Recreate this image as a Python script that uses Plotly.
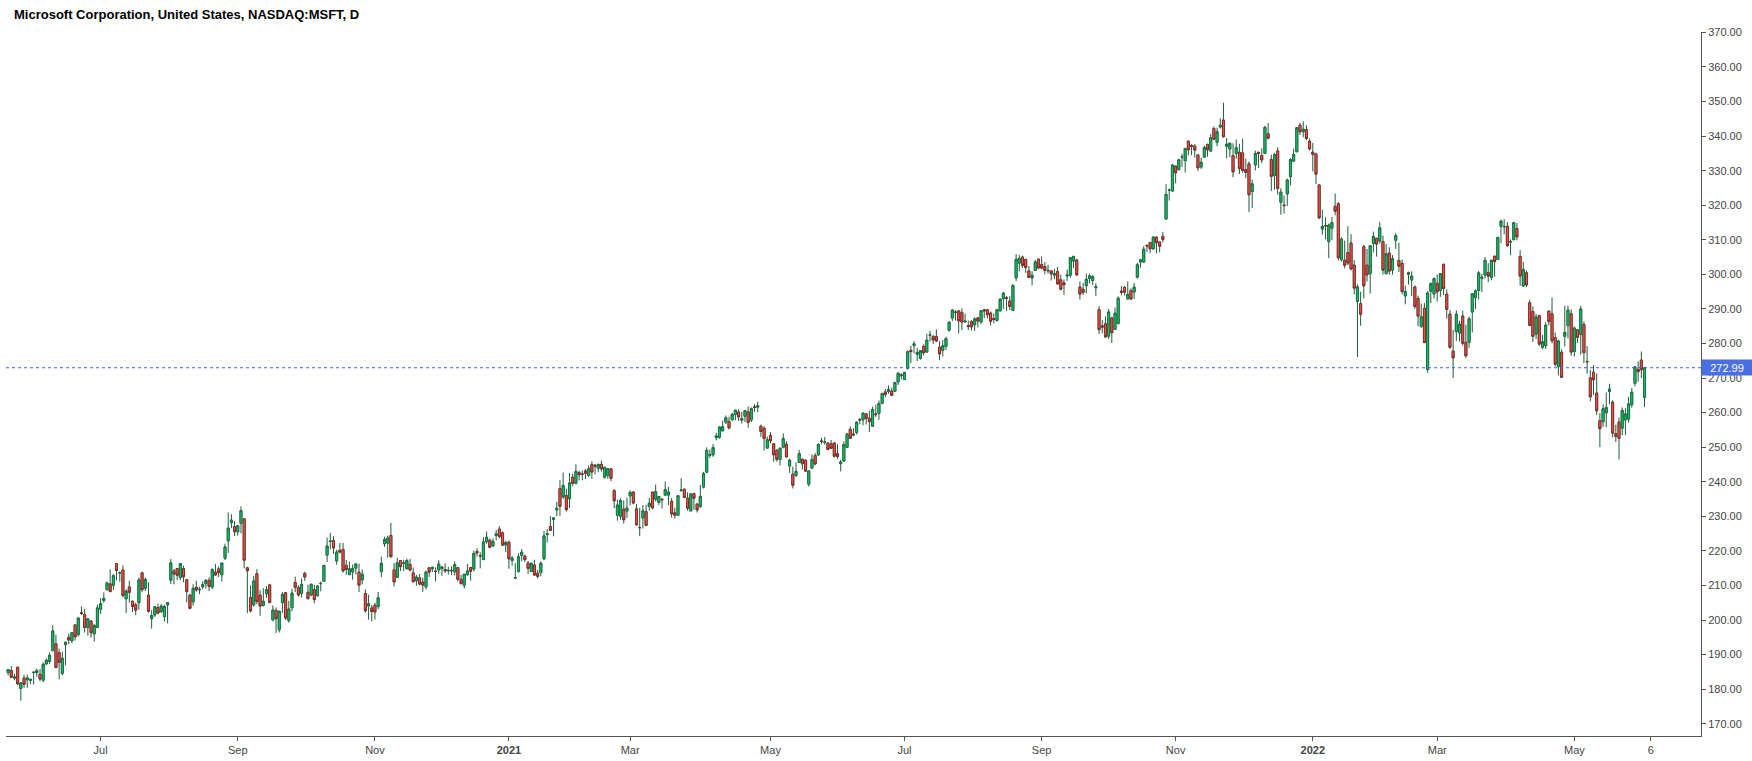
import numpy as np
import pandas as pd
import plotly.graph_objects as go

# ---------------- DATA (MSFT daily, 2020-05-20 .. 2022-06-02) ----------------
holidays = ["2020-05-25", "2020-07-03", "2020-09-07", "2020-11-26", "2020-12-25",
            "2021-01-01", "2021-01-18", "2021-02-15", "2021-04-02", "2021-05-31",
            "2021-07-05", "2021-09-06", "2021-11-25", "2021-12-24", "2022-01-17",
            "2022-02-21", "2022-04-15", "2022-05-30"]

open_ = [
    184.81, 185.40, 183.19, 186.34, 180.20, 183.24, 182.73,  # May20
    182.54, 184.82, 184.81, 184.30, 182.62, 187.32, 188.00, 191.13, 193.13, 190.54, 184.58, 192.89, 195.03, 194.00, 198.59, 195.79, 202.09, 201.60, 197.80, 199.73, 196.00, 197.88,
    203.14, 205.68, 208.83, 210.45, 210.07, 216.33, 213.62, 214.48, 206.13, 209.56, 205.40, 204.47, 205.00, 213.66, 209.20, 207.19, 200.42, 201.47, 203.61, 202.50, 201.00, 204.40,
    211.52, 214.17, 214.90, 212.34, 214.85, 211.67, 207.16, 205.29, 209.44, 208.76, 209.60, 210.53, 211.49, 209.54, 213.86, 214.79, 213.10, 217.88, 222.89, 228.18, 227.00,
    225.51, 227.97, 229.27, 215.10, 206.50, 204.40, 213.40, 207.20, 204.24, 207.64, 210.17, 200.05, 202.80, 197.19, 205.06, 207.90, 199.85, 203.55, 210.88, 209.35, 207.73,
    213.49, 208.00, 207.22, 208.82, 207.06, 210.51, 211.23, 218.79, 222.72, 223.00, 217.10, 220.15, 220.42, 215.80, 213.12, 213.93, 215.03, 213.85, 211.59, 207.67, 204.07, 203.50,
    204.29, 203.89, 214.02, 222.04, 222.26, 224.45, 214.50, 212.39, 217.21, 216.36, 214.87, 216.10, 213.65, 211.38, 212.20, 210.95, 209.59, 215.11, 214.85, 214.10,
    214.51, 214.88, 214.61, 214.22, 214.37, 213.97, 215.16, 211.77, 210.05, 213.10, 215.17, 214.75, 219.87, 218.59, 217.55, 222.69, 223.11, 221.42, 224.45, 226.31, 225.23, 221.70,
    222.53, 217.26, 212.17, 214.04, 218.68, 218.47, 216.50, 214.02, 215.91, 213.52, 213.75, 217.70, 224.70, 227.08, 229.12, 231.86, 238.00, 235.61, 235.99,
    235.06, 241.30, 239.57, 242.66, 242.23, 243.15, 241.87, 245.00, 244.78, 243.93, 245.03, 241.32, 241.80, 243.75, 237.42, 230.33, 230.01, 232.08, 231.53,
    235.90, 237.01, 232.16, 226.74, 229.52, 231.37, 232.88, 237.00, 234.96, 234.01, 234.96, 236.15, 236.15, 234.34, 231.02, 230.27, 237.49, 237.85, 235.30, 231.55, 236.59, 233.53, 232.91,
    238.47, 242.76, 247.61, 247.81, 252.77, 252.87, 254.71, 257.26, 257.48, 257.93, 259.47, 260.19, 257.82, 258.94, 260.21, 257.88, 261.66, 261.58, 256.08, 255.46, 249.74,
    253.40, 250.97, 249.06, 246.45, 250.00, 250.87, 244.55, 242.17, 241.80, 245.58, 246.55, 246.27, 239.31, 243.96, 247.57, 247.79, 251.77, 251.43, 251.17, 251.00,
    251.23, 248.13, 245.22, 246.00, 249.98, 255.16, 253.81, 254.29, 257.99, 257.90, 259.62, 258.40, 256.07, 259.63, 259.82, 262.72, 265.99, 266.16, 266.23, 266.19, 268.87, 270.69,
    269.61, 272.82, 278.03, 279.40, 276.90, 275.72, 279.16, 277.52, 282.35, 282.00, 282.07, 278.93, 278.03, 279.16, 283.84, 287.37, 289.00, 289.43, 289.00, 286.24, 285.18,
    286.36, 285.42, 287.42, 286.22, 289.75, 289.75, 288.80, 287.21, 286.63, 289.48, 292.97, 293.19, 292.28, 289.63, 298.99, 303.25, 305.02, 304.30, 300.99, 298.99, 301.12, 304.42,
    302.87, 302.27, 300.99, 301.01, 299.78, 300.82, 298.42, 297.55, 299.56, 299.78, 303.85, 304.17, 296.33, 295.69, 296.73, 298.85, 298.23, 296.14, 289.80, 285.10, 285.71,
    282.12, 287.40, 284.05, 285.78, 295.18, 296.22, 292.92, 295.34, 294.91, 299.21, 303.57, 303.57, 308.35, 309.24, 307.36, 310.76, 309.36, 311.00, 316.00, 324.33, 324.13,
    331.36, 330.31, 333.90, 332.89, 338.51, 337.30, 337.11, 334.57, 331.10, 333.92, 337.54, 335.68, 342.20, 338.18, 342.64, 344.62, 337.05, 336.28, 334.35, 334.94, 335.32,
    335.13, 330.30, 331.99, 323.95, 331.64, 335.31, 334.41, 334.98, 340.68, 333.22, 328.61, 335.71, 320.88, 320.05, 323.29, 328.30, 332.75, 335.46, 343.15, 341.30, 341.91, 338.51,
    335.35, 334.83, 325.86, 313.15, 314.15, 309.49, 313.38, 319.67, 320.47, 304.25, 304.07, 306.29, 309.07, 302.69, 292.20, 291.52, 307.99, 302.66, 300.23, 308.95,
    310.41, 309.63, 309.49, 300.21, 306.17, 301.25, 309.87, 304.04, 303.19, 293.77, 300.01, 298.37, 296.36, 293.05, 285.00, 290.18, 272.51, 295.14, 294.31,
    297.40, 295.36, 302.89, 294.29, 288.53, 277.80, 283.44, 283.02, 287.96, 280.34, 280.35, 289.11, 293.29, 295.37, 298.89, 299.80, 300.51, 299.14, 305.23, 304.33, 313.91, 313.76, 313.90,
    309.37, 310.09, 313.27, 305.19, 296.66, 300.44, 291.79, 289.24, 282.73, 288.09, 278.91, 279.38, 289.40, 288.58, 281.68, 273.29, 277.50, 282.10, 285.19, 288.61,
    277.71, 283.96, 282.59, 285.54, 274.81, 270.06, 271.69, 265.68, 257.69, 257.35, 259.96, 266.11, 263.00, 253.90, 257.24, 255.49, 257.89, 258.14, 262.27, 268.48, 272.53,
    275.20, 264.45,
]

high_ = [
    185.85, 186.67, 184.46, 186.50, 181.99, 184.15, 184.27,
    183.00, 185.00, 185.94, 185.84, 187.73, 188.90, 190.64, 198.52, 195.76, 191.72, 190.82, 193.75, 196.06, 196.49, 198.60, 200.76, 203.95, 203.25, 200.61, 199.89, 198.78, 204.40,
    206.35, 208.02, 211.13, 214.67, 213.26, 216.38, 214.08, 215.80, 208.85, 211.33, 205.70, 205.04, 212.30, 213.94, 212.30, 210.92, 202.86, 203.97, 204.70, 204.65, 204.46, 205.10,
    217.64, 214.77, 215.00, 216.37, 215.70, 211.88, 207.65, 210.34, 211.35, 209.59, 211.19, 211.81, 212.34, 215.00, 216.25, 215.52, 216.61, 222.09, 231.15, 230.64, 228.70,
    227.45, 232.86, 229.31, 215.42, 210.03, 212.78, 214.74, 208.63, 209.20, 209.78, 210.48, 204.21, 203.65, 202.71, 208.10, 208.10, 205.57, 209.04, 212.57, 210.07, 211.98,
    213.99, 210.19, 210.41, 210.18, 210.11, 211.19, 215.86, 223.86, 225.21, 224.22, 220.36, 222.29, 222.30, 217.37, 216.92, 216.06, 216.28, 216.34, 214.67, 208.84, 207.35, 204.29,
    205.01, 208.12, 218.32, 224.12, 224.36, 228.12, 216.50, 218.04, 217.34, 217.42, 217.74, 217.68, 215.17, 213.03, 213.29, 212.29, 214.25, 215.29, 215.47, 215.23,
    217.32, 215.47, 216.38, 215.38, 215.54, 216.95, 215.23, 213.08, 213.32, 216.21, 215.39, 220.11, 220.76, 219.60, 224.00, 225.63, 223.56, 223.61, 226.03, 227.18, 225.63, 223.00,
    223.00, 218.52, 216.49, 219.34, 220.58, 218.91, 217.10, 216.76, 217.46, 214.51, 216.98, 225.79, 226.30, 230.07, 229.78, 234.18, 240.44, 242.64, 238.02,
    242.50, 242.31, 245.09, 243.24, 243.28, 243.68, 244.76, 245.92, 245.15, 245.30, 246.13, 244.31, 243.93, 243.86, 237.93, 234.83, 235.20, 234.59, 235.37,
    237.47, 237.30, 233.58, 232.49, 233.27, 233.37, 235.38, 237.00, 239.17, 235.82, 235.19, 240.06, 238.55, 235.30, 232.47, 236.20, 241.05, 238.00, 236.94, 236.71, 236.80, 233.85, 239.10,
    242.84, 249.96, 249.40, 250.93, 254.14, 255.99, 257.67, 259.19, 258.83, 259.93, 260.26, 261.00, 260.20, 260.67, 261.78, 261.51, 262.44, 263.19, 256.54, 256.10, 253.08,
    254.35, 251.21, 249.50, 249.80, 254.00, 251.73, 246.60, 244.38, 245.60, 249.18, 246.59, 246.41, 243.23, 247.95, 248.33, 251.16, 252.75, 252.94, 251.48, 252.08,
    251.29, 250.85, 246.34, 251.65, 254.09, 256.01, 255.53, 257.46, 258.49, 259.95, 259.90, 260.58, 261.75, 262.30, 263.52, 265.79, 266.83, 267.85, 267.25, 268.90, 271.65, 271.36,
    271.84, 278.00, 279.37, 280.69, 278.73, 278.05, 279.77, 282.85, 283.66, 282.51, 284.10, 280.69, 280.97, 282.00, 286.42, 289.99, 289.69, 289.58, 290.15, 288.62, 286.66,
    286.77, 287.59, 287.59, 289.60, 290.06, 290.00, 289.25, 288.66, 289.97, 292.90, 294.82, 293.78, 293.70, 297.23, 305.84, 305.65, 305.40, 304.59, 302.43, 300.87, 304.22, 304.50,
    305.19, 303.57, 302.79, 301.09, 301.61, 302.14, 299.92, 298.54, 301.39, 305.00, 305.32, 304.50, 297.94, 297.54, 300.22, 300.22, 299.80, 297.47, 290.78, 286.77, 287.83,
    289.98, 287.75, 290.40, 293.63, 296.64, 296.64, 297.97, 295.95, 297.53, 303.35, 304.45, 308.16, 308.71, 309.30, 311.09, 311.09, 309.58, 312.30, 326.10, 324.86, 332.00,
    331.49, 333.45, 334.90, 336.54, 338.79, 337.65, 337.65, 334.63, 333.77, 337.23, 337.88, 340.67, 342.80, 342.45, 345.10, 349.67, 339.45, 338.16, 337.93, 339.03, 337.78,
    339.28, 333.49, 332.70, 327.45, 335.80, 335.50, 336.49, 343.00, 343.79, 334.64, 335.19, 336.76, 324.92, 322.80, 327.73, 333.61, 336.39, 342.48, 343.81, 344.30, 343.13, 339.36,
    338.00, 335.20, 326.07, 318.70, 316.50, 314.72, 316.61, 323.41, 320.88, 310.82, 309.80, 313.91, 311.65, 304.11, 297.11, 294.99, 308.50, 307.34, 308.48, 312.38,
    310.63, 315.12, 311.23, 308.80, 307.84, 305.56, 311.93, 309.12, 304.29, 296.76, 300.80, 300.87, 296.80, 293.86, 291.54, 291.70, 295.16, 297.63, 299.14,
    299.97, 300.30, 303.13, 295.66, 289.69, 283.96, 289.60, 286.60, 289.51, 285.40, 287.82, 294.57, 295.66, 301.00, 300.14, 305.00, 303.23, 304.20, 305.50, 310.80, 315.82, 315.95, 315.14,
    310.13, 315.11, 314.87, 307.00, 303.65, 301.12, 292.61, 290.74, 288.58, 288.31, 282.46, 286.17, 289.40, 293.30, 283.20, 281.11, 278.36, 290.97, 290.98, 289.88,
    284.94, 284.13, 290.88, 286.35, 279.25, 272.36, 273.75, 271.36, 259.88, 262.45, 265.82, 268.33, 263.60, 256.51, 258.54, 261.50, 261.33, 264.58, 267.11, 273.34, 274.77,
    277.69, 273.10,
]

low_ = [
    183.94, 183.29, 182.54, 181.10, 176.60, 180.38, 180.41,
    181.46, 181.35, 183.58, 182.30, 182.01, 187.00, 187.35, 191.01, 186.07, 182.81, 184.01, 186.88, 193.00, 193.29, 194.03, 195.23, 201.43, 196.36, 195.47, 194.88, 193.75, 197.74,
    201.77, 205.00, 208.44, 207.99, 208.69, 211.47, 211.08, 206.50, 202.03, 205.03, 202.31, 201.39, 203.01, 208.03, 208.39, 202.15, 197.51, 200.86, 201.74, 202.01, 199.57, 199.01,
    210.44, 210.31, 211.57, 211.55, 210.93, 205.10, 203.14, 204.15, 208.15, 207.51, 208.92, 209.06, 208.37, 208.91, 212.85, 212.43, 211.16, 217.36, 219.41, 226.58, 224.31,
    224.43, 225.10, 214.96, 202.00, 202.20, 203.84, 204.52, 201.24, 203.88, 206.42, 205.00, 199.64, 196.25, 196.38, 202.08, 200.03, 199.20, 202.54, 208.06, 206.81, 206.54,
    211.32, 205.94, 206.98, 204.82, 206.72, 208.32, 211.23, 216.81, 220.43, 219.13, 216.01, 219.32, 213.72, 213.09, 213.12, 211.70, 213.16, 208.10, 210.33, 202.10, 200.13, 199.62,
    200.12, 203.12, 212.42, 221.15, 218.03, 217.88, 209.72, 212.20, 214.20, 214.16, 214.52, 214.08, 210.93, 209.93, 210.00, 208.16, 208.86, 212.46, 213.90, 211.20,
    213.35, 212.80, 213.65, 213.18, 212.99, 212.89, 211.21, 210.36, 209.11, 212.88, 211.39, 214.04, 218.39, 214.95, 217.28, 222.09, 220.80, 221.20, 223.02, 223.58, 221.47, 219.68,
    214.81, 215.70, 211.94, 213.71, 217.03, 216.73, 213.32, 213.93, 212.74, 212.03, 212.63, 217.29, 222.42, 225.80, 224.22, 230.08, 230.14, 235.09, 231.35,
    232.43, 238.69, 239.26, 240.37, 240.42, 240.81, 241.38, 240.89, 242.15, 242.73, 242.92, 240.94, 240.86, 240.18, 232.40, 228.73, 229.00, 227.88, 229.54,
    233.15, 233.45, 227.26, 224.26, 226.46, 227.13, 231.67, 232.04, 234.31, 233.23, 232.27, 235.94, 233.23, 229.67, 229.35, 230.15, 237.07, 235.32, 231.57, 231.55, 231.88, 231.10, 232.39,
    238.05, 242.70, 246.88, 247.19, 252.00, 252.44, 254.62, 256.70, 255.16, 257.73, 257.83, 257.60, 256.84, 257.25, 255.64, 257.27, 260.17, 260.12, 252.95, 249.00, 249.60,
    251.12, 245.76, 245.82, 244.70, 249.68, 247.12, 242.57, 238.07, 241.42, 245.49, 243.52, 242.90, 238.60, 243.86, 244.74, 247.51, 250.82, 250.75, 249.25, 249.56,
    246.96, 246.61, 243.00, 245.80, 249.81, 252.51, 253.21, 253.67, 256.61, 256.36, 256.57, 254.42, 256.01, 258.75, 257.92, 262.40, 264.43, 265.47, 264.76, 265.91, 267.98, 269.60,
    269.60, 272.50, 274.30, 277.15, 274.87, 275.32, 276.58, 277.39, 280.55, 279.83, 280.41, 275.20, 276.26, 278.20, 283.42, 286.50, 286.64, 282.95, 283.83, 286.08, 283.91,
    283.74, 283.65, 284.65, 285.65, 287.33, 287.30, 285.20, 285.86, 286.34, 289.18, 290.02, 289.43, 289.67, 289.35, 298.06, 300.92, 301.85, 300.42, 298.95, 296.83, 301.06, 301.50,
    301.49, 300.00, 300.26, 298.20, 298.60, 297.00, 295.38, 294.08, 298.10, 299.04, 301.82, 299.53, 292.75, 294.07, 294.51, 297.42, 296.93, 293.70, 282.75, 283.01, 281.62,
    281.29, 280.25, 284.05, 285.51, 293.92, 293.91, 292.75, 292.66, 292.91, 298.78, 301.92, 303.38, 306.51, 306.11, 307.18, 306.09, 306.36, 309.25, 316.00, 321.36, 323.90,
    326.37, 330.00, 331.10, 329.51, 334.42, 334.44, 333.77, 329.92, 330.51, 333.79, 334.03, 335.51, 338.86, 337.12, 342.20, 339.55, 333.56, 333.91, 328.12, 333.41, 328.99,
    329.39, 327.80, 318.03, 319.23, 330.10, 330.80, 332.12, 334.79, 339.08, 324.11, 324.50, 323.02, 317.25, 317.57, 319.80, 325.75, 332.73, 335.43, 340.32, 339.68, 338.82, 335.85,
    329.78, 326.12, 315.98, 311.49, 310.09, 304.69, 309.89, 317.08, 304.00, 303.75, 301.74, 302.71, 301.14, 294.22, 276.05, 285.17, 293.02, 297.93, 294.45, 306.37,
    305.13, 308.88, 299.96, 299.97, 299.90, 299.95, 307.39, 300.70, 294.22, 291.35, 297.02, 293.68, 290.00, 284.98, 284.50, 280.10, 271.52, 291.65, 293.00,
    292.15, 293.50, 294.05, 287.17, 278.53, 270.00, 280.78, 280.58, 279.43, 275.82, 278.73, 283.20, 290.00, 292.73, 294.90, 298.77, 297.72, 298.32, 299.29, 304.33, 309.05, 311.58, 307.89,
    305.54, 309.71, 309.87, 296.71, 296.35, 296.28, 285.00, 280.49, 281.30, 279.32, 278.34, 278.41, 285.20, 280.06, 273.38, 270.77, 270.00, 279.16, 281.46, 276.50,
    276.22, 280.15, 276.73, 274.34, 271.27, 263.32, 265.07, 259.30, 250.02, 255.82, 255.78, 262.46, 252.77, 251.50, 246.44, 253.43, 253.50, 257.13, 261.43, 267.56, 268.93,
    270.04, 261.60,
]

close_ = [
    185.66, 183.43, 183.51, 181.57, 181.81, 181.40, 183.25,
    182.83, 184.91, 185.36, 182.92, 187.20, 188.36, 189.80, 196.84, 186.27, 187.74, 188.94, 193.57, 194.24, 196.32, 195.15, 200.57, 201.91, 197.84, 200.34, 196.33, 198.44, 203.51,
    204.70, 206.26, 210.70, 208.25, 212.83, 214.32, 213.67, 207.07, 208.35, 208.04, 203.92, 202.88, 211.60, 208.75, 211.75, 202.54, 201.30, 203.85, 202.02, 204.06, 203.90, 205.01,
    216.54, 213.29, 212.94, 216.35, 212.48, 208.25, 203.38, 209.19, 208.70, 208.90, 210.28, 211.49, 209.70, 214.58, 213.02, 213.69, 216.47, 221.15, 226.58, 228.91, 225.53,
    227.27, 231.65, 217.30, 214.25, 202.66, 211.29, 205.37, 204.03, 205.41, 208.78, 205.05, 202.91, 200.39, 202.54, 207.42, 200.59, 203.19, 207.82, 209.44, 207.26, 210.33,
    212.46, 206.19, 210.38, 205.91, 209.83, 210.58, 215.81, 221.40, 222.86, 220.86, 219.66, 219.66, 214.22, 214.65, 214.80, 214.89, 216.23, 210.08, 213.25, 202.68, 204.72, 202.47,
    202.33, 206.43, 216.39, 223.29, 223.72, 218.39, 211.01, 216.55, 215.44, 216.51, 217.23, 214.46, 211.08, 212.42, 210.39, 210.11, 213.86, 213.87, 215.23, 214.07,
    216.21, 215.37, 214.24, 214.36, 214.29, 216.01, 211.80, 210.52, 213.26, 214.20, 214.13, 219.28, 219.42, 218.59, 222.59, 223.94, 221.02, 222.75, 224.96, 224.15, 221.68, 222.42,
    217.69, 217.90, 212.25, 218.29, 219.62, 217.49, 214.93, 216.34, 213.02, 212.65, 216.44, 224.34, 224.97, 225.95, 229.53, 232.33, 232.90, 238.93, 231.96,
    239.65, 239.51, 243.00, 242.01, 242.20, 242.47, 243.77, 242.82, 244.49, 244.99, 243.70, 244.20, 243.79, 240.97, 234.51, 233.27, 234.55, 228.99, 232.38,
    236.94, 233.87, 227.56, 226.73, 231.60, 227.39, 233.78, 232.42, 237.13, 235.75, 234.81, 237.71, 237.04, 230.72, 230.35, 235.99, 237.58, 235.46, 232.34, 236.48, 235.24, 231.85, 235.77,
    242.35, 249.07, 247.86, 249.90, 253.25, 255.85, 255.91, 258.49, 255.59, 259.50, 260.74, 258.74, 258.26, 260.58, 257.17, 261.15, 261.55, 261.97, 254.56, 252.51, 252.18,
    251.86, 247.79, 246.47, 249.73, 252.46, 247.18, 246.23, 239.00, 243.03, 248.15, 245.18, 243.08, 243.12, 246.48, 245.17, 250.78, 251.72, 251.49, 249.31, 249.68,
    247.40, 247.30, 245.71, 250.79, 253.81, 252.57, 253.59, 257.24, 257.89, 259.89, 258.36, 257.38, 260.90, 259.43, 262.63, 265.51, 265.27, 266.69, 265.02, 268.72, 271.40, 270.90,
    271.60, 277.65, 277.66, 279.93, 277.42, 277.94, 277.32, 280.98, 282.51, 281.03, 280.75, 277.01, 279.32, 281.40, 286.14, 289.67, 289.05, 286.54, 286.22, 286.50, 284.91,
    284.82, 287.12, 286.51, 289.52, 289.46, 288.33, 286.44, 286.95, 289.81, 292.85, 294.60, 293.08, 290.73, 296.77, 304.36, 304.65, 302.62, 302.01, 299.09, 299.72, 303.59, 301.88,
    301.83, 301.15, 301.14, 300.18, 300.21, 297.25, 295.71, 296.99, 299.79, 304.82, 305.22, 299.87, 294.30, 294.80, 298.58, 299.56, 299.35, 296.38, 284.00, 284.77, 281.92,
    289.10, 283.11, 288.76, 293.11, 294.85, 294.85, 294.23, 292.88, 296.31, 302.75, 304.21, 307.29, 308.23, 307.41, 310.76, 309.16, 308.13, 310.11, 323.17, 324.35, 331.62,
    329.37, 333.13, 334.00, 336.44, 336.06, 336.99, 335.95, 330.80, 332.43, 336.72, 336.07, 339.51, 339.12, 341.27, 343.11, 339.83, 337.68, 337.91, 329.68, 336.63, 330.59,
    330.08, 329.49, 323.01, 326.19, 334.92, 334.97, 333.10, 342.54, 339.40, 328.34, 334.65, 324.90, 323.80, 319.91, 327.29, 333.20, 334.69, 342.45, 341.25, 341.95, 339.32, 336.32,
    334.75, 329.01, 316.38, 313.88, 314.04, 314.27, 314.98, 318.27, 304.80, 310.20, 302.65, 303.33, 301.60, 296.03, 296.37, 288.49, 296.71, 299.84, 308.26, 310.98,
    308.76, 313.46, 301.25, 305.94, 300.95, 304.56, 311.21, 302.38, 295.04, 295.00, 300.47, 299.50, 290.73, 287.93, 287.72, 280.27, 294.59, 297.31, 298.79,
    294.95, 300.19, 295.92, 289.86, 278.91, 275.85, 288.50, 285.59, 280.07, 276.44, 287.15, 294.39, 295.22, 300.43, 299.16, 304.06, 299.49, 304.10, 303.68, 310.70, 315.41, 313.86, 308.31,
    309.42, 314.97, 310.88, 299.50, 301.37, 296.97, 285.26, 282.06, 287.62, 279.83, 280.52, 285.30, 286.36, 280.81, 274.03, 280.72, 270.22, 283.22, 289.63, 277.52,
    284.47, 281.78, 289.98, 277.35, 274.73, 264.58, 269.50, 260.55, 255.35, 261.12, 261.50, 266.82, 254.08, 253.14, 252.56, 260.65, 259.62, 262.52, 265.90, 273.24, 271.87,
    272.42, 272.99,
]

last_price = 272.99

tick_dates = ["2020-07-01", "2020-09-01", "2020-11-02", "2021-01-04", "2021-03-01", "2021-05-03",
              "2021-07-01", "2021-09-01", "2021-11-01", "2022-01-03", "2022-03-01", "2022-05-02",
              "2022-06-06"]
tick_labels = ["Jul", "Sep", "Nov", "<b>2021</b>", "Mar", "May",
               "Jul", "Sep", "Nov", "<b>2022</b>", "Mar", "May", "6"]

title_text = "Microsoft Corporation, United States, NASDAQ:MSFT, D"

# ---------------- BUILD ----------------
dates = pd.bdate_range("2020-05-20", "2022-06-10", freq="C", holidays=holidays)
pos = {d.strftime("%Y-%m-%d"): i for i, d in enumerate(dates)}
n = len(close_)
x = np.arange(n)
tick_vals = [pos[d] for d in tick_dates]

o = np.array(open_); h = np.array(high_); l = np.array(low_); c = np.array(close_)
body_hi = np.maximum(o, c)
body_lo = np.minimum(o, c)

WICK = "#1f5c3c"
G_FILL, G_LINE = "#10c46c", "#1f6a40"
R_FILL, R_LINE = "#ff5048", "#7c2626"

fig = go.Figure()
# wicks
fig.add_trace(go.Candlestick(
    x=x, open=o, high=h, low=l, close=c,
    increasing=dict(line=dict(color=WICK, width=1), fillcolor=WICK),
    decreasing=dict(line=dict(color=WICK, width=1), fillcolor=WICK),
    hoverinfo="skip", showlegend=False))
# bodies
fig.add_trace(go.Candlestick(
    x=x, open=o, high=body_hi, low=body_lo, close=c,
    increasing=dict(line=dict(color=G_LINE, width=0.8), fillcolor=G_FILL),
    decreasing=dict(line=dict(color=R_LINE, width=0.8), fillcolor=R_FILL),
    hoverinfo="skip", showlegend=False))

fig.add_shape(type="line", xref="paper", x0=0, x1=1, yref="y", y0=last_price, y1=last_price,
              line=dict(color="#3b5fdc", width=1, dash="dot"))

fig.add_annotation(xref="paper", x=1, xanchor="left", yref="y", y=last_price, yanchor="middle",
                   text=f"{last_price:.2f}", showarrow=False, width=48, height=13, align="center",
                   bgcolor="#4a6fe3", borderpad=1,
                   font=dict(family="Liberation Sans, Arial, sans-serif", size=11, color="white"))

AX = "#555555"
TXT = "#444444"
fig.update_layout(
    width=1752, height=761,
    margin=dict(l=6, r=51, t=32, b=25),
    paper_bgcolor="white", plot_bgcolor="white",
    showlegend=False, hovermode=False,
    boxgap=0.1,
    font=dict(family="Liberation Sans, Arial, sans-serif", size=11, color=TXT),
    title=dict(text=f"<b>{title_text}</b>", x=14 / 1752, xanchor="left", xref="container",
               y=1 - 14 / 761, yanchor="middle", yref="container",
               font=dict(family="Liberation Sans, Arial, sans-serif", size=13, color="#000000")),
    xaxis=dict(range=[-0.66, 530.7], rangeslider=dict(visible=False), showgrid=False,
               zeroline=False, showline=True, linecolor=AX, linewidth=1,
               ticks="outside", ticklen=4, tickcolor=AX,
               tickmode="array", tickvals=tick_vals, ticktext=tick_labels,
               tickfont=dict(size=11, color=TXT)),
    yaxis=dict(side="right", range=[166.45, 370.12], showgrid=False, zeroline=False,
               showline=True, linecolor=AX, linewidth=1, ticks="outside", ticklen=4,
               tickcolor=AX, tick0=170, dtick=10, tickformat=".2f",
               tickfont=dict(size=11, color=TXT)),
)

fig.write_html("out.html")
